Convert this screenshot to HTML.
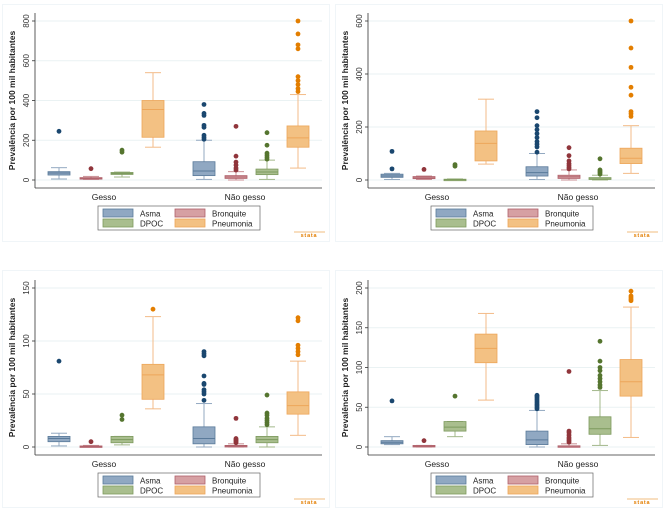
<!DOCTYPE html>
<html><head><meta charset="utf-8">
<style>
html,body{margin:0;padding:0;background:#fff;}
body{width:666px;height:511px;overflow:hidden;font-family:"Liberation Sans",sans-serif;}
svg{display:block;position:absolute;}
</style></head>
<body>
<div id="root" style="position:relative;width:666px;height:511px;"></div>
<script>
// categories
const groups = ["Gesso", "Não gesso"];
const series = ["Asma", "Bronquite", "DPOC", "Pneumonia"];
// box order: Gesso(Asma,Bronq,DPOC,Pneu), Não gesso(Asma,Bronq,DPOC,Pneu)
const p1Ticks = [0, 200, 400, 600, 800];
const p1Lo  = [5, 3, 15, 165, 3, 0, 3, 60];
const p1Q1  = [25, 5, 28, 215, 22, 8, 27, 165];
const p1Med = [35, 8, 33, 355, 45, 15, 40, 212];
const p1Q3  = [42, 12, 38, 400, 92, 22, 55, 272];
const p1Hi  = [62, 18, 40, 540, 200, 42, 100, 430];
const p1Out = [[245], [57], [140, 150], [], [205, 215, 225, 265, 275, 325, 335, 380], [50, 60, 75, 90, 120, 270], [105, 115, 125, 135, 175, 238], [445, 460, 480, 500, 520, 660, 680, 735, 800]];

const p2Ticks = [0, 200, 400, 600];
const p2Lo  = [2, 2, 0, 60, 2, 0, 0, 25];
const p2Q1  = [10, 5, 1, 72, 15, 6, 2, 62];
const p2Med = [15, 8, 2, 138, 28, 12, 4, 82];
const p2Q3  = [22, 13, 3, 185, 50, 18, 9, 120];
const p2Hi  = [25, 15, 4, 305, 100, 38, 18, 205];
const p2Out = [[42, 108], [40], [52, 58], [], [105, 125, 135, 145, 160, 175, 190, 205, 235, 258], [42, 48, 55, 62, 72, 92, 122], [22, 28, 33, 38, 80], [240, 250, 258, 320, 350, 425, 498, 600]];

const p3Ticks = [0, 50, 100, 150];
const p3Lo  = [1, 0, 2, 36, 0, 0, 0, 11];
const p3Q1  = [5, 0, 4, 45, 3, 0, 4, 31];
const p3Med = [8, 0.5, 7, 68, 8, 1, 7, 39];
const p3Q3  = [10, 1, 10, 78, 19, 1.5, 10, 52];
const p3Hi  = [13, 1.5, 10, 123, 41, 3, 19, 81];
const p3Out = [[81], [5], [26, 30], [130], [44, 50, 52, 54, 59, 60, 67, 86, 88, 90], [4, 5, 6, 7, 8, 27], [21, 23, 25, 27, 30, 32, 49], [87, 90, 93, 96, 119, 122]];

const p4Ticks = [0, 50, 100, 150, 200];
const p4Lo  = [3, 0, 13, 59, 0, 0, 2, 12];
const p4Q1  = [4, 0, 20, 106, 3, 0, 16, 64];
const p4Med = [6, 1, 25, 124, 9, 1, 23, 82];
const p4Q3  = [8, 2, 32, 142, 20, 1.5, 38, 110];
const p4Hi  = [13, 2, 32, 168, 46, 4, 71, 176];
const p4Out = [[58], [8], [64], [], [48, 50, 52, 54, 56, 58, 60, 62, 64, 65], [6, 8, 10, 12, 15, 18, 20, 95], [75, 78, 82, 86, 90, 96, 100, 108, 133], [184, 186, 188, 190, 196]];

const fills = ["#90a8c2", "#d6a0a3", "#a9be8e", "#f3c183"];
const strokes = ["#5a7a9a", "#b0606a", "#7d9a5e", "#eda65a"];
const whisk = ["#93a9c1", "#c98f94", "#a3b88b", "#f3bb88"];
const dots = ["#1a476f", "#90353b", "#55752f", "#e37e00"];
const NS = "http://www.w3.org/2000/svg";

function mk(tag, attrs, parent) {
  const e = document.createElementNS(NS, tag);
  for (const k in attrs) e.setAttribute(k, attrs[k]);
  parent.appendChild(e);
  return e;
}

function panel(px, py, y0, ytop, ticks, lo, q1, med, q3, hi, out, name) {
  const W = 333, H = (py === 0 ? 255 : 256);
  const svg = mk("svg", {width: W, height: H, viewBox: "0 0 " + W + " " + H}, document.getElementById("root"));
  svg.style.left = px + "px"; svg.style.top = py + "px";
  
  
  const by = (py === 0 ? 4 : 15);
  mk("rect", {x: 2.5, y: by + 0.5, width: 327, height: 237, fill: "#fff", stroke: "#f0f5f8", "stroke-width": 1}, svg);
  const left = 35, right = 322;
  const tmax = ticks[ticks.length - 1];
  const ys = v => y0 - (v / tmax) * (y0 - ytop);
  ticks.forEach(t => {
    const y = ys(t);
    const g = mk("line", {x1: left, x2: right, y1: y, y2: y, stroke: "#eaf2f3", "stroke-width": 1}, svg);
    
    
    mk("line", {x1: left - 3, x2: left, y1: y, y2: y, stroke: "#333", "stroke-width": 0.8}, svg);
    const tx = mk("text", {x: left - 6, y: y, "font-size": 8, fill: "#333", "text-anchor": "middle", transform: "rotate(-90 " + (left - 6) + " " + y + ")"}, svg);
    tx.textContent = t;
    
    
  });
  const axB = y0 + 8;
  mk("line", {x1: left, x2: left, y1: ytop - 8, y2: axB, stroke: "#333", "stroke-width": 0.8}, svg);
  mk("line", {x1: left, x2: right, y1: axB, y2: axB, stroke: "#333", "stroke-width": 0.8}, svg);
  const yt = mk("text", {x: 0, y: 0, "font-size": 8.5, "font-weight": "bold", fill: "#222", "text-anchor": "middle", transform: "translate(15," + ((ytop + y0) / 2) + ") rotate(-90)"}, svg);
  yt.textContent = "Prevalência por 100 mil habitantes";
  
  
  const centers = [59, 91, 122, 153, 204, 236, 267, 298];
  const bw = 22;
  for (let i = 0; i < 8; i++) {
    const s = i % 4, cx = centers[i];
    const g = mk("g", {}, svg);
    
    
    mk("line", {x1: cx, x2: cx, y1: ys(hi[i]), y2: ys(q3[i]), stroke: whisk[s], "stroke-width": 1}, g);
    mk("line", {x1: cx, x2: cx, y1: ys(q1[i]), y2: ys(lo[i]), stroke: whisk[s], "stroke-width": 1}, g);
    mk("line", {x1: cx - 8, x2: cx + 8, y1: ys(hi[i]), y2: ys(hi[i]), stroke: whisk[s], "stroke-width": 1}, g);
    mk("line", {x1: cx - 8, x2: cx + 8, y1: ys(lo[i]), y2: ys(lo[i]), stroke: whisk[s], "stroke-width": 1}, g);
    const top = ys(q3[i]), bot = ys(q1[i]);
    mk("rect", {x: cx - bw / 2, y: top, width: bw, height: Math.max(bot - top, 1.5), fill: fills[s], stroke: strokes[s], "stroke-width": 0.8}, g);
    mk("line", {x1: cx - bw / 2, x2: cx + bw / 2, y1: ys(med[i]), y2: ys(med[i]), stroke: strokes[s], "stroke-width": 1}, g);
    out[i].forEach(v => {
      const c = mk("circle", {cx: cx, cy: ys(v), r: 2.4, fill: dots[s]}, g);
      
      
    });
  }
  [[104, groups[0]], [245, groups[1]]].forEach(([x, t]) => {
    const e = mk("text", {x: x, y: axB + 12, "font-size": 8.5, fill: "#222", "text-anchor": "middle"}, svg);
    e.textContent = t;
    
    
  });
  const ly = axB + 18;
  const lg = mk("g", {}, svg);
  
  
  mk("rect", {x: 98, y: ly, width: 162, height: 24, fill: "#fff", stroke: "#666", "stroke-width": 0.7}, lg);
  const pos = [[103, ly + 3], [175, ly + 3], [103, ly + 13], [175, ly + 13]];
  series.forEach((s, k) => {
    const ent = mk("g", {}, lg);
    
    
    mk("rect", {x: pos[k][0], y: pos[k][1], width: 30, height: 8, fill: fills[k], stroke: strokes[k], "stroke-width": 0.8}, ent);
    const t = mk("text", {x: pos[k][0] + 37, y: pos[k][1] + 7.5, "font-size": 8, fill: "#222"}, ent);
    t.textContent = s;
  });
  const st = mk("text", {x: 309, y: ly + 31, "font-size": 5.5, "font-weight": "bold", fill: "#e37e00", "text-anchor": "middle", "letter-spacing": "0.8"}, svg);
  st.textContent = "stata";
  
  
  mk("line", {x1: 294, x2: 325, y1: ly + 26, y2: ly + 26, stroke: "#e37e00", "stroke-width": 0.6}, svg);
}

panel(0, 0, 180, 21, p1Ticks, p1Lo, p1Q1, p1Med, p1Q3, p1Hi, p1Out, "panel-top-left");
panel(333, 0, 180, 21, p2Ticks, p2Lo, p2Q1, p2Med, p2Q3, p2Hi, p2Out, "panel-top-right");
panel(0, 255, 192, 33, p3Ticks, p3Lo, p3Q1, p3Med, p3Q3, p3Hi, p3Out, "panel-bottom-left");
panel(333, 255, 192, 33, p4Ticks, p4Lo, p4Q1, p4Med, p4Q3, p4Hi, p4Out, "panel-bottom-right");
</script>
</body></html>
